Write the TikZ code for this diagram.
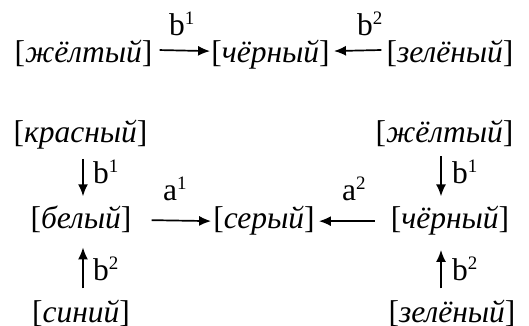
\documentclass[tikz,border=0pt]{standalone}
\usepackage{fontspec}
\setmainfont{Liberation Serif}
\usetikzlibrary{arrows.meta}
\newcommand\supx[1]{\raisebox{11pt}{\fontsize{19}{20}\selectfont #1}}
\begin{document}
\begin{tikzpicture}[x=1pt,y=1pt,
  term/.style={inner sep=0pt, anchor=base, font=\fontsize{31.5}{33}\selectfont},
  lab/.style={inner sep=0pt, anchor=base west, font=\fontsize{31.5}{33}\selectfont},
  arr/.style={line width=1.7pt, -{Latex[length=12pt,width=10pt]}}]
\useasboundingbox (0,0) rectangle (529,325);
% top row
\node[term] (y1) at (83.5,263) {[\textit{жёлтый}]};
\node[term] (k1) at (270.5,263) {[\textit{чёрный}]};
\node[term] (z1) at (450,263) {[\textit{зелёный}]};
\node[lab] (lb1) at (169,290) {b\supx{1}};
\node[lab] (lb2) at (357,290) {b\supx{2}};
\draw[arr, shorten <=7pt, shorten >=1pt] ([yshift=3pt]y1.east) -- ([yshift=3pt]k1.west);
\draw[arr, shorten <=5pt, shorten >=4pt] ([yshift=3pt]z1.west) -- ([yshift=3pt]k1.east);
% left column
\node[term] (kr) at (80.5,183) {[\textit{красный}]};
\node[term] (be) at (81,97) {[\textit{белый}]};
\node[term] (si) at (81,3) {[\textit{синий}]};
\node[term] (se) at (264,97) {[\textit{серый}]};
% right column
\node[term] (y2) at (444.5,183) {[\textit{жёлтый}]};
\node[term] (k2) at (450,97) {[\textit{чёрный}]};
\node[term] (z2) at (452,3) {[\textit{зелёный}]};
% labels
\node[lab] (lc1) at (93,142) {b\supx{1}};
\node[lab] (lc2) at (93,45) {b\supx{2}};
\node[lab] (rc1) at (452,142) {b\supx{1}};
\node[lab] (rc2) at (452,45) {b\supx{2}};
\node[lab] (la1) at (163,125) {a\supx{1}};
\node[lab] (la2) at (342,125) {a\supx{2}};
% vertical arrows
\draw[arr, shorten <=10pt, shorten >=9pt] ([xshift=2.5pt]kr.south) -- ([xshift=2pt]be.north);
\draw[arr, shorten <=11pt, shorten >=15pt] ([xshift=2pt]si.north) -- ([xshift=2pt]be.south);
\draw[arr, shorten <=10pt, shorten >=9pt] ([xshift=-3.5pt]y2.south) -- ([xshift=-9pt]k2.north);
\draw[arr, shorten <=11pt, shorten >=15pt] ([xshift=-11pt]z2.north) -- ([xshift=-9pt]k2.south);
% middle arrows
\draw[arr, shorten <=20pt, shorten >=2pt] ([yshift=-1pt]be.east) -- ([yshift=-1pt]se.west);
\draw[arr, shorten <=16pt, shorten >=4pt] ([yshift=-1pt]k2.west) -- ([yshift=-1pt]se.east);
\end{tikzpicture}
\end{document}
